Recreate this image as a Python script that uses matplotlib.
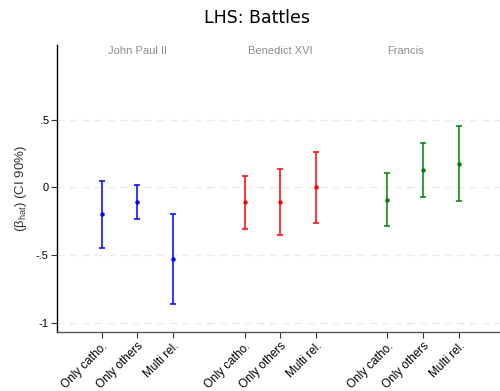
import matplotlib
matplotlib.use("Agg")
import matplotlib.pyplot as plt

plt.rcParams["font.family"] = ["Liberation Sans", "DejaVu Sans"]
plt.rcParams["mathtext.fontset"] = "custom"
plt.rcParams["mathtext.rm"] = "Liberation Sans"

# Point estimates and 90% confidence bounds by papacy and religion group
groups = ["John Paul II", "Benedict XVI", "Francis"]
categories = ["Only catho.", "Only others", "Multi rel."]
colors = ["blue", "red", "green"]

jp2_est = [-0.20, -0.107, -0.53]
jp2_low = [-0.45, -0.236, -0.865]
jp2_high = [0.048, 0.018, -0.194]

b16_est = [-0.107, -0.105, 0.0]
b16_low = [-0.305, -0.35, -0.263]
b16_high = [0.087, 0.137, 0.263]

fra_est = [-0.09, 0.132, 0.176]
fra_low = [-0.285, -0.068, -0.098]
fra_high = [0.105, 0.332, 0.453]

yticks = [0.5, 0, -0.5, -1]
ytick_labels = [".5", "0", "-.5", "-1"]

series = [(jp2_est, jp2_low, jp2_high),
          (b16_est, b16_low, b16_high),
          (fra_est, fra_low, fra_high)]

fig = plt.figure(figsize=(5.0, 3.91), dpi=100)
ax = fig.add_axes([0.114, 0.151, 0.886, 0.734])

xpos_all, xlab_all = [], []
for g, (est, lo, hi) in enumerate(series):
    xs = [g * 4 + 1 + i for i in range(len(est))]
    yerr = [[e - l for e, l in zip(est, lo)], [h - e for e, h in zip(est, hi)]]
    ax.errorbar(xs, est, yerr=yerr, fmt="o", color=colors[g], ms=2.2,
                elinewidth=1.1, capsize=2.5, capthick=1.1)
    xpos_all += xs
    xlab_all += categories

# Group labels above each cluster
for x, name in zip([2, 6, 9.5], groups):
    ax.text(x, 0.98, name, ha="center", va="center", color="#8c8c8c",
            fontsize=8, transform=ax.get_xaxis_transform())

ax.set_xlim(-0.25, 12.15)
ax.set_ylim(-1.07, 1.055)
ax.set_xticks(xpos_all)
ax.set_xticklabels(xlab_all, rotation=45, ha="right", rotation_mode="anchor",
                   fontsize=8.5)
ax.set_yticks(yticks)
ax.set_yticklabels(ytick_labels, fontsize=8)
ax.tick_params(axis="both", length=4, width=0.8, color="#333333", pad=2)
ax.tick_params(axis="x", pad=2)

for y in yticks:
    ax.axhline(y, color="#ebebeb", lw=1.0, ls=(0, (5, 4)), zorder=0)

for side in ["top", "right"]:
    ax.spines[side].set_visible(False)
ax.spines["left"].set_linewidth(1.0)
ax.spines["bottom"].set_linewidth(1.0)
ax.spines["bottom"].set_color("#555555")

ax.set_ylabel(r"(β$_{\mathrm{hat}}$) (CI 90%)", fontsize=9.5, color="#333333",
              labelpad=5)
fig.suptitle("LHS: Battles", fontsize=12.5, y=0.978, x=0.514,
             family="DejaVu Sans")

fig.savefig("out.png", dpi=100)
